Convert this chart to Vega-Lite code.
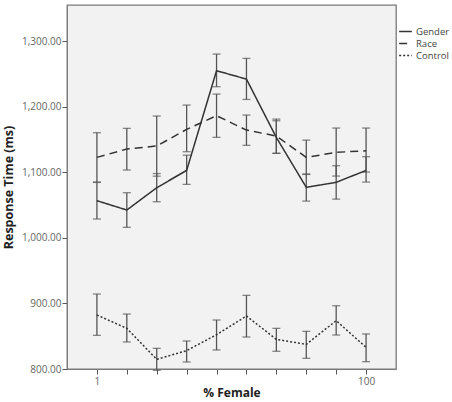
{
  "$schema": "https://vega.github.io/schema/vega-lite/v6.json",
  "width": 329,
  "height": 364,
  "autosize": {"type": "none"},
  "padding": {"left": 67, "top": 5, "right": 56, "bottom": 33},
  "background": "white",
  "config": {
    "view": {"fill": "#f2f2f2", "stroke": "#7a7a7a", "strokeWidth": 1.3},
    "font": "Open Sans"
  },
  "data": {
    "values": [
      {"series": "Gender", "pct": 1, "mean": 1056.6, "lo": 1028.7, "hi": 1084.5},
      {"series": "Gender", "pct": 12, "mean": 1042.4, "lo": 1016.0, "hi": 1068.8},
      {"series": "Gender", "pct": 23, "mean": 1076.4, "lo": 1055.0, "hi": 1098.0},
      {"series": "Gender", "pct": 34, "mean": 1102.8, "lo": 1081.5, "hi": 1126.0},
      {"series": "Gender", "pct": 45, "mean": 1254.8, "lo": 1230.4, "hi": 1280.2},
      {"series": "Gender", "pct": 56, "mean": 1242.0, "lo": 1211.0, "hi": 1273.6},
      {"series": "Gender", "pct": 67, "mean": 1153.0, "lo": 1128.8, "hi": 1181.0},
      {"series": "Gender", "pct": 78, "mean": 1077.0, "lo": 1056.0, "hi": 1097.3},
      {"series": "Gender", "pct": 89, "mean": 1084.6, "lo": 1059.0, "hi": 1110.0},
      {"series": "Gender", "pct": 100, "mean": 1102.8, "lo": 1085.0, "hi": 1123.7},
      {"series": "Race", "pct": 1, "mean": 1122.7, "lo": 1085.0, "hi": 1160.3},
      {"series": "Race", "pct": 12, "mean": 1135.4, "lo": 1103.4, "hi": 1166.9},
      {"series": "Race", "pct": 23, "mean": 1140.0, "lo": 1094.0, "hi": 1185.7},
      {"series": "Race", "pct": 34, "mean": 1165.3, "lo": 1131.3, "hi": 1202.4},
      {"series": "Race", "pct": 45, "mean": 1186.2, "lo": 1153.2, "hi": 1219.2},
      {"series": "Race", "pct": 56, "mean": 1164.3, "lo": 1141.0, "hi": 1187.2},
      {"series": "Race", "pct": 67, "mean": 1155.2, "lo": 1128.8, "hi": 1178.5},
      {"series": "Race", "pct": 78, "mean": 1122.7, "lo": 1096.7, "hi": 1149.0},
      {"series": "Race", "pct": 89, "mean": 1130.3, "lo": 1094.2, "hi": 1167.4},
      {"series": "Race", "pct": 100, "mean": 1132.8, "lo": 1100.3, "hi": 1167.4},
      {"series": "Control", "pct": 1, "mean": 882.3, "lo": 851.3, "hi": 914.3},
      {"series": "Control", "pct": 12, "mean": 862.0, "lo": 841.2, "hi": 883.8},
      {"series": "Control", "pct": 23, "mean": 814.7, "lo": 798.0, "hi": 831.5},
      {"series": "Control", "pct": 34, "mean": 828.0, "lo": 810.7, "hi": 842.7},
      {"series": "Control", "pct": 45, "mean": 852.3, "lo": 829.0, "hi": 874.7},
      {"series": "Control", "pct": 56, "mean": 880.8, "lo": 848.8, "hi": 912.3},
      {"series": "Control", "pct": 67, "mean": 845.2, "lo": 827.0, "hi": 862.0},
      {"series": "Control", "pct": 78, "mean": 837.6, "lo": 816.3, "hi": 857.4},
      {"series": "Control", "pct": 89, "mean": 873.7, "lo": 851.8, "hi": 896.5},
      {"series": "Control", "pct": 100, "mean": 833.0, "lo": 811.2, "hi": 853.4}
    ]
  },
  "encoding": {
    "x": {
      "field": "pct",
      "type": "ordinal",
      "scale": {"type": "point", "padding": 1.05},
      "axis": {
        "title": "% Female",
        "titleFont": "Open Sans",
        "titleFontWeight": "bold",
        "titleFontSize": 12,
        "titleColor": "#222",
        "titlePadding": 1,
        "labelAngle": 0,
        "labelExpr": "datum.value == 1 || datum.value == 100 ? datum.label : ''",
        "labelFontSize": 10,
        "labelColor": "#666",
        "labelPadding": 2,
        "tickSize": 5,
        "tickColor": "#555",
        "domainColor": "#7a7a7a",
        "grid": false
      }
    }
  },
  "layer": [
    {
      "mark": {"type": "rule", "color": "#555", "strokeWidth": 1.3},
      "encoding": {
        "y": {
          "field": "lo",
          "type": "quantitative",
          "scale": {"domain": [800, 1355], "nice": false, "zero": false},
          "axis": {
            "title": "Response Time (ms)",
            "titleFont": "Open Sans",
            "titleFontWeight": "bold",
            "titleFontSize": 12.5,
            "titleColor": "#222",
            "titlePadding": 6,
            "values": [800, 900, 1000, 1100, 1200, 1300],
            "format": ",.2f",
            "labelFontSize": 10,
            "labelColor": "#666",
            "labelPadding": 1,
            "tickSize": 5,
            "tickColor": "#555",
            "domainColor": "#7a7a7a",
            "grid": false
          }
        },
        "y2": {"field": "hi"},
        "detail": {"field": "series"}
      }
    },
    {
      "mark": {"type": "tick", "orient": "horizontal", "size": 8, "thickness": 1.3, "color": "#555"},
      "encoding": {
        "y": {"field": "lo", "type": "quantitative"},
        "detail": {"field": "series"}
      }
    },
    {
      "mark": {"type": "tick", "orient": "horizontal", "size": 8, "thickness": 1.3, "color": "#555"},
      "encoding": {
        "y": {"field": "hi", "type": "quantitative"},
        "detail": {"field": "series"}
      }
    },
    {
      "mark": {"type": "line", "color": "#333", "strokeWidth": 1.5},
      "encoding": {
        "y": {"field": "mean", "type": "quantitative"},
        "strokeDash": {
          "field": "series",
          "type": "nominal",
          "scale": {"domain": ["Gender", "Race", "Control"], "range": [[1, 0], [8, 5], [2, 2]]},
          "legend": {
            "title": null,
            "orient": "none",
            "legendX": 331,
            "legendY": 19,
            "symbolType": "stroke",
            "symbolSize": 160,
            "symbolStrokeColor": "#333",
            "symbolStrokeWidth": 1.5,
            "labelFontSize": 9.5,
            "labelColor": "#444",
            "labelOffset": 3,
            "rowPadding": -1.5
          }
        }
      }
    }
  ]
}
